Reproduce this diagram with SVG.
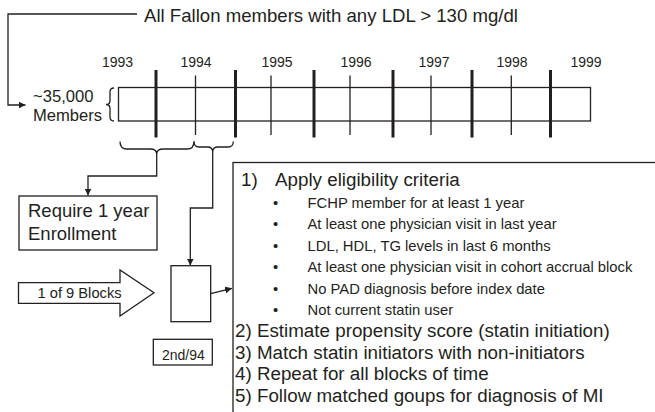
<svg xmlns="http://www.w3.org/2000/svg" width="655" height="412" viewBox="0 0 655 412">
<defs>
<style>
text{font-family:"Liberation Sans",Arial,Helvetica,sans-serif;fill:#231f20}
.ln{fill:none;stroke:#231f20;stroke-width:1.3}
.thick{stroke:#231f20;stroke-width:3}
.thin{stroke:#231f20;stroke-width:1.3}
.box{fill:#fff;stroke:#231f20;stroke-width:1.3}
.yr{font-size:14px;text-anchor:middle}
.big{font-size:18.8px}
.bul{font-size:14.8px}
</style>
<marker id="ah" viewBox="0 0 10 10" refX="10" refY="5" markerWidth="7" markerHeight="7" markerUnits="userSpaceOnUse" orient="auto">
<path d="M0,0 L10,5 L0,10 z" fill="#231f20"/>
</marker>
</defs>
<rect width="655" height="412" fill="#fff"/>

<g id="title">
<text x="144" y="22" style="font-size:18.6px">All Fallon members with any LDL &gt; 130 mg/dl</text>
</g>

<g id="timeline">
<rect x="118.5" y="87.5" width="472" height="33.5" class="box"/>
<line x1="156" y1="70" x2="156" y2="137.5" class="thick"/>
<line x1="235.5" y1="70" x2="235.5" y2="137.5" class="thick"/>
<line x1="314" y1="70" x2="314" y2="137.5" class="thick"/>
<line x1="393" y1="70" x2="393" y2="137.5" class="thick"/>
<line x1="472" y1="70" x2="472" y2="137.5" class="thick"/>
<line x1="550.5" y1="70" x2="550.5" y2="137.5" class="thick"/>
<line x1="195.5" y1="75.5" x2="195.5" y2="135" class="thin"/>
<line x1="271" y1="75.5" x2="271" y2="135" class="thin"/>
<line x1="350" y1="75.5" x2="350" y2="135" class="thin"/>
<line x1="431" y1="75.5" x2="431" y2="135" class="thin"/>
<line x1="511.3" y1="75.5" x2="511.3" y2="135" class="thin"/>
<text x="117.5" y="66.5" class="yr">1993</text>
<text x="196" y="66.5" class="yr">1994</text>
<text x="277" y="66.5" class="yr">1995</text>
<text x="356" y="66.5" class="yr">1996</text>
<text x="434" y="66.5" class="yr">1997</text>
<text x="512" y="66.5" class="yr">1998</text>
<text x="586" y="66.5" class="yr">1999</text>
<path class="ln" d="M114,88 Q110,88 110,92 L110,100.5 Q110,104.5 106,104.5 Q110,104.5 110,108.5 L110,117 Q110,121 114,121"/>
</g>

<g id="members">
<text x="33" y="101.5" style="font-size:16.6px">~35,000</text>
<text x="33" y="121" style="font-size:16.6px">Members</text>
</g>

<g id="brace1">
<path class="ln" d="M120,141.5 Q120,149 127,149 L150,149 Q156.7,149 156.7,154 Q156.7,149 163.5,149 L187,149 Q194,149 194,141.5"/>
</g>
<g id="brace2">
<path class="ln" d="M194,141.5 Q194,147 199,147 L207.5,147 Q212.7,147 212.7,152 Q212.7,147 218,147 L228,147 Q233.3,147 233.3,141.5"/>
</g>

<g id="require">
<rect x="19" y="196" width="138" height="54" class="box"/>
<text x="28" y="216.5" class="big" style="font-size:18.5px">Require 1 year</text>
<text x="28" y="240" class="big" style="font-size:18.5px">Enrollment</text>
</g>

<g id="blocks-arrow">
<path class="box" d="M18.5,282.7 L120,282.7 L120,270 L154,292.7 L120,316 L120,303.3 L18.5,303.3 Z"/>
<text x="37.5" y="298" style="font-size:14.7px">1 of 9 Blocks</text>
</g>

<g id="block">
<rect x="171" y="265.7" width="39.7" height="56" class="box"/>
</g>

<g id="label-2nd94">
<rect x="153.3" y="339.3" width="59" height="25.7" class="box"/>
<text x="162" y="359.5" style="font-size:14px">2nd/94</text>
</g>

<g id="steps">
<rect x="233" y="162.5" width="440" height="270" class="box"/>
<text x="241" y="186" class="big">1)</text>
<text x="275" y="186" class="big">Apply eligibility criteria</text>
<g class="bul">
<text x="273" y="207.5">•</text><text x="307.5" y="207.5">FCHP member for at least 1 year</text>
<text x="273" y="229">•</text><text x="307.5" y="229">At least one physician visit in last year</text>
<text x="273" y="250.5">•</text><text x="307.5" y="250.5">LDL, HDL, TG levels in last 6 months</text>
<text x="273" y="272">•</text><text x="307.5" y="272">At least one physician visit in cohort accrual block</text>
<text x="273" y="293.5">•</text><text x="307.5" y="293.5">No PAD diagnosis before index date</text>
<text x="273" y="315">•</text><text x="307.5" y="315">Not current statin user</text>
</g>
<text x="235" y="337" class="big">2) Estimate propensity score (statin initiation)</text>
<text x="235" y="358.5" class="big">3) Match statin initiators with non-initiators</text>
<text x="235" y="380" class="big">4) Repeat for all blocks of time</text>
<text x="235" y="401.5" class="big">5) Follow matched goups for diagnosis of MI</text>
</g>

<g id="connectors">
<path class="ln" d="M137,14 L8,14 L8,105 L25.5,105" marker-end="url(#ah)"/>
<path class="ln" d="M156.7,154 L156.7,176 L88,176 L88,195.5" marker-end="url(#ah)"/>
<path class="ln" d="M212.7,152 L212.7,208 L190.3,208 L190.3,265.5" marker-end="url(#ah)"/>
<path class="ln" d="M210.7,293.7 L232,288.3" marker-end="url(#ah)"/>
</g>
</svg>
